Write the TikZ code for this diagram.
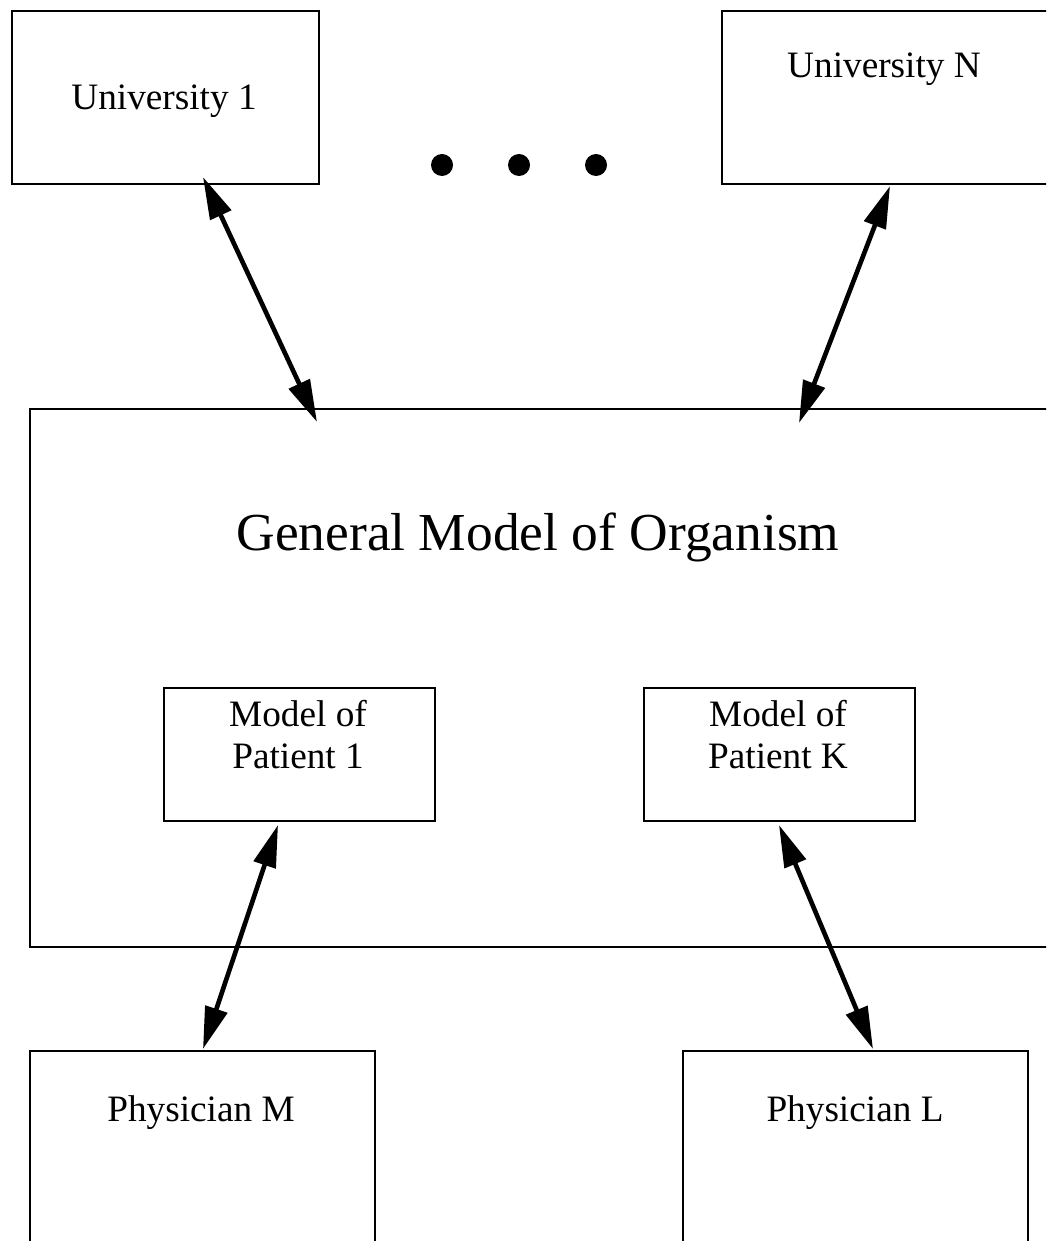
\documentclass[tikz,border=0pt]{standalone}
\usepackage{fontspec}
\setmainfont{Liberation Serif}
\usetikzlibrary{arrows.meta, positioning, calc}

\begin{document}
\begin{tikzpicture}[
    x=0.025cm, y=-0.025cm,
    box/.style={draw, rectangle, line width=1.4pt, inner sep=0pt, anchor=north west},
    lbl/.style={anchor=base, align=center, font=\fontsize{26.5}{29.2}\selectfont},
    biglbl/.style={anchor=base, font=\fontsize{38}{44}\selectfont},
    link/.style={{Triangle[length=30pt,width=16pt]}-{Triangle[length=30pt,width=16pt]}, line width=3.3pt}
]
    \useasboundingbox (0,0) rectangle (1046,1241);
    \clip (0,0) rectangle (1046,1241);

    % universities
    \node[box, minimum width=7.675cm, minimum height=4.325cm] (uni1) at (11,10) {};
    \node[box, minimum width=8.15cm, minimum height=4.325cm] (uniN) at (721,10) {};
    \node[lbl] (t-uni1) at (164,110) {University 1};
    \node[lbl] (t-uniN) at (884,78) {University N};
    \foreach \x in {442,519,596}
        \fill (\x,165) circle[radius=0.275cm];

    % general model with patient models
    \node[box, minimum width=25.45cm, minimum height=13.45cm] (gen) at (29,408) {};
    \node[biglbl] (t-gen) at (538,550) {General Model of Organism};
    \node[box, minimum width=6.775cm, minimum height=3.325cm] (pat1) at (163,687) {};
    \node[box, minimum width=6.775cm, minimum height=3.325cm] (patK) at (643,687) {};
    \node[lbl] (t-pat1) at (298,768) {Model of\\Patient 1};
    \node[lbl] (t-patK) at (778,768) {Model of\\Patient K};

    % physicians
    \node[box, minimum width=8.625cm, minimum height=5.5cm] (phyM) at (29,1050) {};
    \node[box, minimum width=8.625cm, minimum height=5.5cm] (phyL) at (682,1050) {};
    \node[lbl] (t-phyM) at (201,1121) {Physician M};
    \node[lbl] (t-phyL) at (855,1121) {Physician L};

    % links
    \draw[link] ($(uni1.south west)+(192,-8)$) -- ($(gen.north west)+(288,14)$);
    \draw[link] ($(uniN.south west)+(169,1)$) -- ($(gen.north west)+(770,15)$);
    \draw[link] ($(pat1.south west)+(115,3)$) -- ($(phyM.north west)+(174,-1)$);
    \draw[link] ($(patK.south west)+(136,3)$) -- ($(phyL.north west)+(191,-1)$);
\end{tikzpicture}
\end{document}
